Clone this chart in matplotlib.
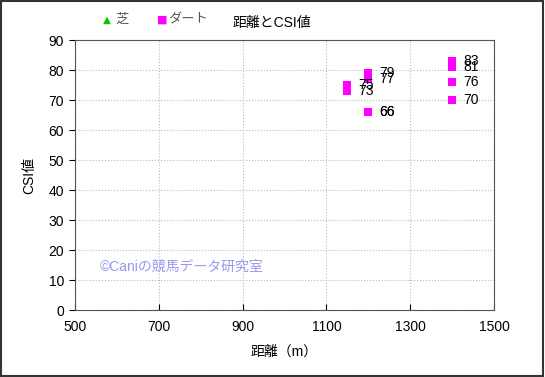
import matplotlib.pyplot as plt
import matplotlib.patches as patches

plt.rcParams['font.family'] = ['Liberation Sans', 'Noto Sans CJK JP', 'DejaVu Sans']

# data
turf_dist = []
turf_csi = []
dirt_dist = [1150, 1150, 1200, 1200, 1200, 1200, 1400, 1400, 1400, 1400]
dirt_csi = [75, 73, 79, 77, 66, 66, 83, 81, 76, 70]

xticks = [500, 700, 900, 1100, 1300, 1500]
yticks = list(range(0, 91, 10))

fig = plt.figure(figsize=(5.45, 3.77), dpi=100)
ax = fig.add_axes([75 / 545, 1 - 310 / 377, (494 - 75) / 545, (310 - 40) / 377])

ax.scatter(turf_dist, turf_csi, marker='^', s=30, color='#00cc00', edgecolors='#008800', zorder=3)
ax.scatter(dirt_dist, dirt_csi, marker='s', s=32, color='#ff00ff', linewidths=0, zorder=3)
for x, y in zip(dirt_dist, dirt_csi):
    ax.annotate(str(y), (x, y), xytext=(8, 0), textcoords='offset points',
                fontsize=10, color='black', va='center')

ax.set_xlim(500, 1500)
ax.set_ylim(0, 90)
ax.set_xticks(xticks)
ax.set_yticks(yticks)
ax.tick_params(axis='x', labelsize=10, direction='in', length=4, pad=7)
ax.tick_params(axis='y', labelsize=10, direction='out', length=4, pad=4)
ax.grid(True, color='#bbbbbb', linestyle=':', linewidth=0.8)
for s in ax.spines.values():
    s.set_color('#555555')

ax.set_xlabel('距離（m）', fontsize=10, labelpad=8)
ax.set_ylabel('CSI値', fontsize=10, labelpad=9)

ax.text(560, 13, '©Caniの競馬データ研究室', fontsize=10, color='#9999ee', zorder=2)

# legend + title at top
fig.text(103 / 545, 1 - 20 / 377, '▲', fontsize=7.5, color='#00cc00', va='center',
         family=['DejaVu Sans'])
fig.text(115 / 545, 1 - 20 / 377, '芝', fontsize=9.5, color='#555555', va='center')
fig.text(157 / 545, 1 - 20 / 377, '■', fontsize=8, color='#ff00ff', va='center',
         family=['DejaVu Sans'])
fig.text(168 / 545, 1 - 20 / 377, 'ダート', fontsize=9.5, color='#555555', va='center')
fig.text(272 / 545, 1 - 23 / 377, '距離とCSI値', fontsize=10, color='black', va='center', ha='center')

fig.patches.append(patches.Rectangle((0.002, 0.003), 0.995, 0.994, transform=fig.transFigure,
                                     fill=False, edgecolor='#333333', linewidth=1.5))

fig.savefig('out.png', dpi=100)
